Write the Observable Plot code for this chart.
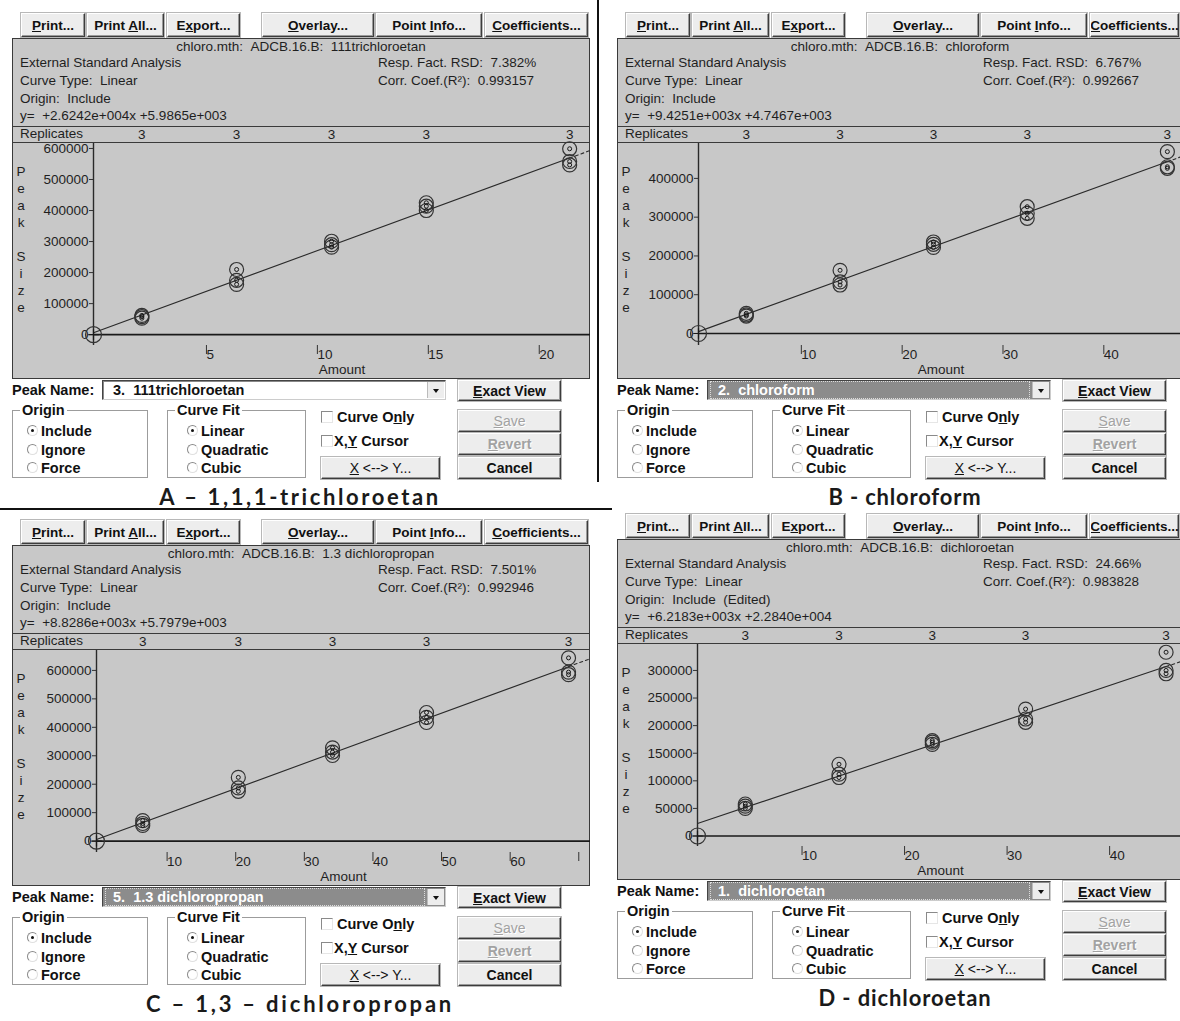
<!DOCTYPE html>
<html><head><meta charset="utf-8">
<script src="https://cdn.jsdelivr.net/npm/d3@7"></script>
<script src="https://cdn.jsdelivr.net/npm/@observablehq/plot@0.6"></script>
<style>
html,body{margin:0;padding:0;background:#fff;}
body{width:1180px;height:1021px;overflow:hidden;position:relative;font-family:"Liberation Sans",Arial,sans-serif;color:#1e1e1e;}
.panel{position:absolute;}
.abs{position:absolute;white-space:nowrap;}
.btn{position:absolute;box-sizing:border-box;background:#ededed;border-top:1px solid #fff;border-left:1px solid #fff;border-right:1px solid #3c3c3c;border-bottom:1px solid #3c3c3c;box-shadow:inset -1px -1px 0 #9a9a9a, 0 0 0 1px #b8b8b8;font:bold 14px "Liberation Sans Narrow","Liberation Sans",Arial,sans-serif;color:#111;display:flex;align-items:center;justify-content:center;white-space:pre;overflow:hidden;}
.btn.top{font-size:13.5px;}
.btn.dis{color:#a2a2a2;text-shadow:1px 1px 0 #fff;}
.gray{position:absolute;background:#c8c8c8;box-sizing:border-box;border:1px solid #3a3a3a;}
.hline{position:absolute;height:0;border-top:1px solid #3a3a3a;}
.info{font-size:13.5px;line-height:16px;height:16px;color:#1f1f1f;}
.ctl{font:bold 14.5px "Liberation Sans Narrow","Liberation Sans",Arial,sans-serif;color:#111;line-height:18px;height:18px;}
.group{position:absolute;box-sizing:border-box;border:1px solid #9c9c9c;box-shadow:1px 1px 0 #fff inset;}
.legend{position:absolute;top:-10px;left:7px;background:#fff;padding:0 2px;font:bold 14.5px "Liberation Sans Narrow","Liberation Sans",Arial,sans-serif;line-height:18px;color:#111;}
.radio{position:absolute;width:11px;height:11px;border-radius:50%;box-sizing:border-box;border:1px solid #8a8a8a;border-right-color:#e0e0e0;border-bottom-color:#e0e0e0;background:#fff;}
.radio.on::after{content:"";position:absolute;left:3px;top:3px;width:3px;height:3px;border-radius:50%;background:#111;}
.check{position:absolute;width:12px;height:12px;box-sizing:border-box;border:1px solid #8a8a8a;border-right-color:#e6e6e6;border-bottom-color:#e6e6e6;background:#fff;}
.combo{position:absolute;box-sizing:border-box;border:1px solid #444;border-right-color:#ccc;border-bottom-color:#ccc;box-shadow:inset 1px 1px 0 #888;}
.arrow{position:absolute;right:1px;top:1px;bottom:1px;width:16px;background:#ededed;border-left:1px solid #bbb;}
.arrow::after{content:"";position:absolute;left:5px;top:7px;border-left:3px solid transparent;border-right:3px solid transparent;border-top:4px solid #111;}
.caption{position:absolute;font:bold 22px Lato,"Open Sans",sans-serif;color:#1a1a1a;white-space:nowrap;transform:translate(-50%,-50%);}
.ylab{position:absolute;font-size:13.5px;line-height:17px;text-align:center;width:12px;color:#1f1f1f;}
</style>
</head><body>
<script>
// ---------------- data ----------------
const panelLetters = ["A", "B", "C", "D"];
const compounds = ["111trichloroetan", "chloroform", "1.3 dichloropropan", "dichloroetan"];
const peakNumbers = [3, 2, 5, 1];
const captions = ["A – 1,1,1-trichloroetan", "B - chloroform", "C – 1,3 – dichloropropan", "D - dichloroetan"];
const methodName = "chloro.mth:  ADCB.16.B:  ";
const rsdValues = ["7.382%", "6.767%", "7.501%", "24.66%"];
const r2Values = ["0.993157", "0.992667", "0.992946", "0.983828"];
const originStatus = ["Include", "Include", "Include", "Include  (Edited)"];
const slopes = [2.6242e4, 9.4251e3, 8.8286e3, 6.2183e3];
const intercepts = [5.9865e3, 4.7467e3, 5.7979e3, 2.2840e4];

const amountsA = [2.18, 6.45, 10.73, 15.0, 21.46];
const peaksA = [[53000, 58000, 62000], [210000, 175000, 162000], [301000, 290000, 282000], [425000, 414000, 400000], [599000, 558000, 547000]];
const amountsB = [4.74, 14.04, 23.3, 32.6, 46.5];
const peaksB = [[45000, 48000, 52000], [163000, 133000, 125000], [236000, 230000, 222000], [327000, 310000, 297000], [469000, 430000, 426000]];
const amountsC = [6.74, 20.67, 34.4, 48.1, 68.8];
const peaksC = [[72000, 62000, 55000], [224000, 187000, 175000], [328000, 313000, 301000], [452000, 435000, 417000], [644000, 594000, 585000]];
const amountsD = [4.66, 13.8, 22.9, 32.0, 45.7];
const peaksD = [[58000, 54000, 50000], [130000, 112000, 106000], [173000, 170000, 166000], [230000, 212000, 206000], [333000, 300000, 294000]];

const xTicksA = [5, 10, 15, 20];
const xTicksB = [10, 20, 30, 40];
const xTicksC = [10, 20, 30, 40, 50, 60, 70];
const xTicksD = [10, 20, 30, 40];
const yTicksA = [0, 100000, 200000, 300000, 400000, 500000, 600000];
const yTicksB = [0, 100000, 200000, 300000, 400000];
const yTicksC = [0, 100000, 200000, 300000, 400000, 500000, 600000];
const yTicksD = [0, 50000, 100000, 150000, 200000, 250000, 300000];
const lastLabelledTick = [20, 40, 60, 40];

const amountsAll = [amountsA, amountsB, amountsC, amountsD];
const peaksAll = [peaksA, peaksB, peaksC, peaksD];
const xTicksAll = [xTicksA, xTicksB, xTicksC, xTicksD];
const yTicksAll = [yTicksA, yTicksB, yTicksC, yTicksD];

// ---------------- layout ----------------
const layout = [
  {L: 12, T: 12, W: 578, ml: 81, xDomain: [0, 22.4], yDomain: [-35000, 616000], capSpacing: "2.6px"},
  {L: 617, T: 12, W: 566, ml: 81, xDomain: [0, 48.1], yDomain: [-31000, 490000], capSpacing: "0.8px"},
  {L: 12, T: 519, W: 578, ml: 84, xDomain: [0, 72], yDomain: [-40000, 670000], capSpacing: "2.8px"},
  {L: 617, T: 513, W: 566, ml: 80, xDomain: [0, 47.4], yDomain: [-19000, 347000], capSpacing: "0.9px"}
];
const topButtons = [
  {x: 9, w: 64, h: "<u>P</u>rint..."},
  {x: 75, w: 77, h: "Print <u>A</u>ll..."},
  {x: 155, w: 73, h: "E<u>x</u>port..."},
  {x: 250, w: 112, h: "<u>O</u>verlay..."},
  {x: 364, w: 106, h: "Point <u>I</u>nfo..."},
  {x: 473, w: 103, h: "<u>C</u>oefficients..."}
];

function fmtCoef(v) {
  const [m, e] = v.toExponential(4).split("e");
  const n = +e;
  return (v < 0 ? "" : "+") + m + "e" + (n < 0 ? "-" : "+") + String(Math.abs(n)).padStart(3, "0");
}

function add(parent, tag, cls, css, html) {
  const e = document.createElement(tag);
  if (cls) e.className = cls;
  if (css) Object.assign(e.style, css);
  if (html != null) e.innerHTML = html;
  parent.appendChild(e);
  return e;
}
const px = v => v + "px";
const btn = (parent, cls, css, html) => add(parent, "div", "btn " + cls, css, "<span>" + html + "</span>");

function buildPanel(i) {
  const c = layout[i];
  const visibleRight = Math.min(c.W, 1180 - c.L);
  const p = add(document.body, "div", "panel", {left: px(c.L), top: px(c.T), width: px(c.W), height: "500px"});
  // top buttons
  topButtons.forEach(b => btn(p, "top", {left: px(b.x), top: "1px", width: px(Math.min(b.w, visibleRight - b.x - 1)), height: "24px"}, b.h));
  // gray area
  add(p, "div", "gray", {left: "0px", top: "26px", width: px(c.W), height: "341px"});
  add(p, "div", "hline", {left: "0px", top: "114px", width: px(c.W)});
  add(p, "div", "hline", {left: "0px", top: "130px", width: px(c.W)});
  // info texts
  add(p, "div", "abs info", {left: "0px", width: px(c.W), textAlign: "center", top: "27px"}, methodName.replace(/ /g, "&nbsp;") + compounds[i]);
  add(p, "div", "abs info", {left: "8px", top: "43px"}, "External Standard Analysis");
  add(p, "div", "abs info", {left: "8px", top: "61px"}, "Curve Type:&nbsp; Linear");
  add(p, "div", "abs info", {left: "8px", top: "79px"}, "Origin:&nbsp; " + originStatus[i].replace(/ /g, "&nbsp;"));
  add(p, "div", "abs info", {left: "8px", top: "96px"}, "y=&nbsp; " + fmtCoef(slopes[i]) + "x " + fmtCoef(intercepts[i]));
  add(p, "div", "abs info", {left: "366px", top: "43px"}, "Resp. Fact. RSD:&nbsp; " + rsdValues[i]);
  add(p, "div", "abs info", {left: "366px", top: "61px"}, "Corr. Coef.(R²):&nbsp; " + r2Values[i]);
  add(p, "div", "abs info", {left: "8px", top: "114px"}, "Replicates");
  // y label
  add(p, "div", "ylab", {left: "3px", top: "151px"}, "P<br>e<br>a<br>k<br>&nbsp;<br>S<br>i<br>z<br>e");

  // plot
  const amounts = amountsAll[i], peaks = peaksAll[i];
  const pts = amounts.flatMap((a, k) => peaks[k].map(v => ({amount: a, peak: v})));
  const levels = amounts.map((a, k) => ({amount: a, n: peaks[k].length}));
  const lastX = amounts[amounts.length - 1];
  const xEnd = c.xDomain[1];
  const f = x => slopes[i] * x + intercepts[i];
  const fitSolid = [0, lastX].map(x => ({x, y: f(x)}));
  const fitDash = [lastX, xEnd].map(x => ({x, y: f(x)}));
  const origin = [{amount: 0, peak: 0}];
  const plotHolder = add(p, "div", "abs", {left: "0px", top: "114px", width: px(c.W), height: "252px"});
  const chart = Plot.plot({
    width: c.W, height: 252,
    marginTop: 17, marginBottom: 33, marginLeft: c.ml, marginRight: 0,
    x: {domain: c.xDomain},
    y: {domain: c.yDomain},
    style: {background: "transparent", fontFamily: '"Liberation Sans", Arial, sans-serif', fontSize: "13.5px", color: "#1f1f1f", overflow: "visible"},
    marks: [
      Plot.ruleY([0], {stroke: "#1a1a1a", strokeWidth: 1.6}),
      Plot.ruleX([0], {stroke: "#2a2a2a", strokeWidth: 1.4}),
      Plot.axisY({ticks: yTicksAll[i], tickSize: 4, tickPadding: 1, tickFormat: d => String(d), label: null, stroke: "#333"}),
      Plot.axisX({ticks: xTicksAll[i], tickSize: 9, tickPadding: -5, textAnchor: "start", dx: 2,
        tickFormat: d => d > lastLabelledTick[i] ? "" : String(d), stroke: "#333",
        label: "Amount", labelAnchor: "center", labelArrow: "none", labelOffset: 28}),
      Plot.line(fitSolid, {x: "x", y: "y", stroke: "#2a2a2a", strokeWidth: 1.1}),
      Plot.line(fitDash, {x: "x", y: "y", stroke: "#2a2a2a", strokeWidth: 1.1, strokeDasharray: "3,3"}),
      Plot.dot(pts, {x: "amount", y: "peak", r: 7, stroke: "#333", strokeWidth: 1.2, fill: "none"}),
      Plot.dot(pts, {x: "amount", y: "peak", r: 2, stroke: "#1a1a1a", strokeWidth: 1, fill: "none"}),
      Plot.dot(origin, {x: "amount", y: "peak", r: 8, stroke: "#333", strokeWidth: 1.2, fill: "none"}),
      Plot.dot(origin, {x: "amount", y: "peak", r: 3.5, symbol: "plus", stroke: "#1a1a1a", strokeWidth: 1.2}),
      Plot.text(levels, {x: "amount", text: d => String(d.n), frameAnchor: "top", lineAnchor: "middle", dy: -9, fill: "#1f1f1f"})
    ]
  });
  plotHolder.appendChild(chart);

  // lower controls
  add(p, "div", "abs ctl", {left: "0px", top: "369px"}, "Peak Name:");
  const sel = i === 0;
  const combo = add(p, "div", "combo", {left: "90px", top: "368px", width: "344px", height: "20px", background: sel ? "#fff" : "#8c8c8c"});
  add(combo, "div", "abs ctl", {left: sel ? "10px" : "2px", right: "20px", top: "0px", color: sel ? "#111" : "#fff", paddingLeft: sel ? "0" : "8px",
    outline: sel ? "none" : "1px dotted #ddd", outlineOffset: "-1px"}, peakNumbers[i] + ".&nbsp; " + compounds[i]);
  add(combo, "div", "arrow");
  btn(p, "", {left: "446px", top: "368px", width: "103px", height: "21px"}, "<u>E</u>xact View");

  const g1 = add(p, "div", "group", {left: "0px", top: "398px", width: "136px", height: "68px"});
  add(g1, "div", "legend", null, "Origin");
  const g2 = add(p, "div", "group", {left: "155px", top: "398px", width: "139px", height: "68px"});
  add(g2, "div", "legend", null, "Curve Fit");
  const radios = [["Include", "Linear"], ["Ignore", "Quadratic"], ["Force", "Cubic"]];
  const ry = [419, 438, 456];
  radios.forEach((r, k) => {
    add(p, "div", "radio" + (k === 0 ? " on" : ""), {left: "15px", top: px(ry[k] - 6)});
    add(p, "div", "abs ctl", {left: "29px", top: px(ry[k] - 9)}, r[0]);
    add(p, "div", "radio" + (k === 0 ? " on" : ""), {left: "175px", top: px(ry[k] - 6)});
    add(p, "div", "abs ctl", {left: "189px", top: px(ry[k] - 9)}, r[1]);
  });
  add(p, "div", "check", {left: "309px", top: "399px"});
  add(p, "div", "abs ctl", {left: "325px", top: "396px"}, "Curve O<u>n</u>ly");
  add(p, "div", "check", {left: "309px", top: "423px"});
  add(p, "div", "abs ctl", {left: "322px", top: "420px"}, "X,<u>Y</u> Cursor");
  btn(p, "", {left: "309px", top: "445px", width: "119px", height: "22px", fontWeight: "normal"}, "<u>X</u> &lt;--&gt; Y...");
  btn(p, "dis", {left: "446px", top: "398px", width: "103px", height: "22px", fontWeight: "normal"}, "<u>S</u>ave");
  btn(p, "dis", {left: "446px", top: "421px", width: "103px", height: "22px"}, "<u>R</u>evert");
  btn(p, "", {left: "446px", top: "445px", width: "103px", height: "22px"}, "Cancel");

  // caption
  add(p, "div", "caption", {left: "288px", top: "484px", letterSpacing: c.capSpacing}, captions[i]);
}

for (let i = 0; i < 4; i++) buildPanel(i);

// separators
add(document.body, "div", "abs", {left: "597px", top: "0px", width: "2px", height: "482px", background: "#111"});
add(document.body, "div", "abs", {left: "0px", top: "508px", width: "612px", height: "2px", background: "#111"});
</script>
</body></html>
